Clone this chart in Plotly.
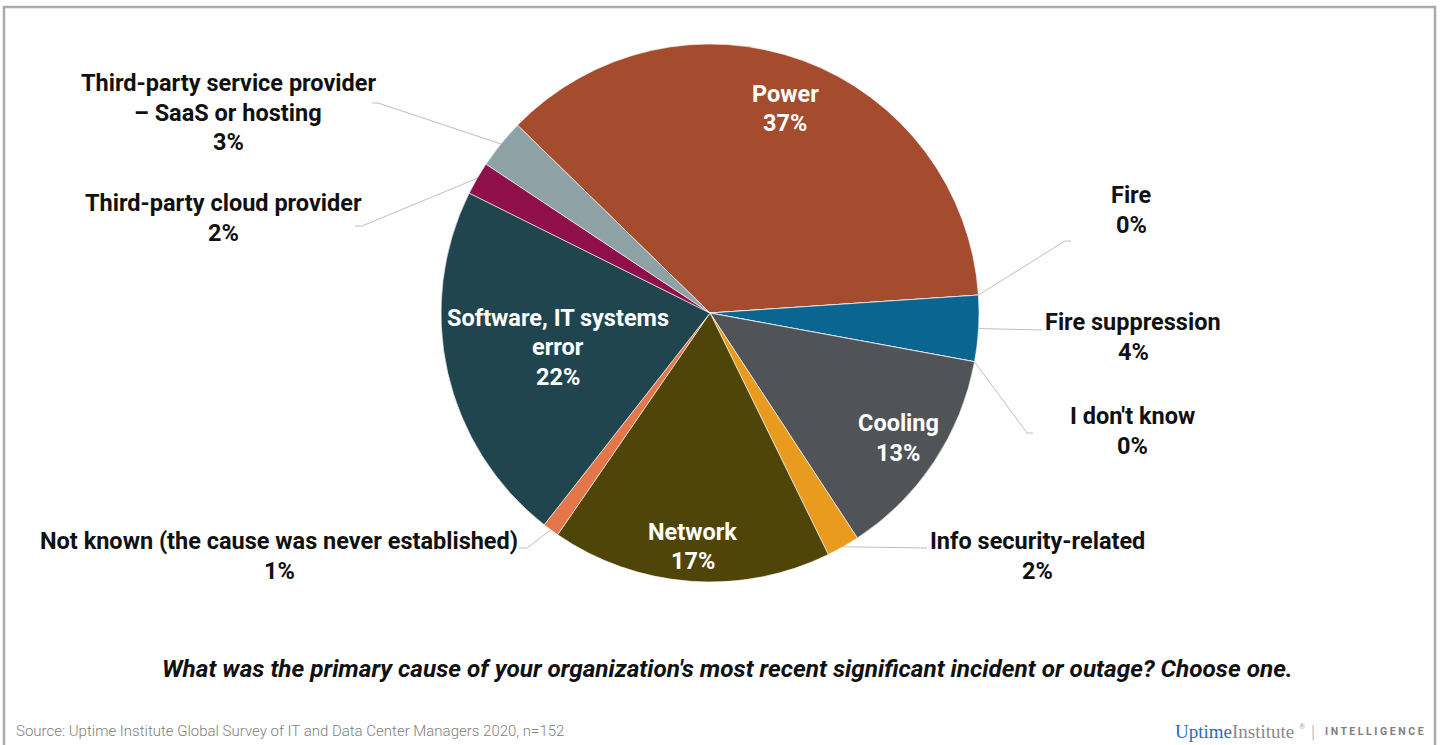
import math
import plotly.graph_objects as go

# ---------------- data ----------------
categories = [
    "Power", "Fire", "Fire suppression", "I don't know", "Cooling",
    "Info security-related", "Network", "Not known (the cause was never established)",
    "Software, IT systems error", "Third-party cloud provider",
    "Third-party service provider – SaaS or hosting",
]
values = [37, 0, 4, 0, 13, 2, 17, 1, 22, 2, 3]
pct_labels = ["37%", "0%", "4%", "0%", "13%", "2%", "17%", "1%", "22%", "2%", "3%"]
label_lines = [
    ["Power"], ["Fire"], ["Fire suppression"], ["I don't know"], ["Cooling"],
    ["Info security-related"], ["Network"], ["Not known (the cause was never established)"],
    ["Software, IT systems", "error"], ["Third-party cloud provider"],
    ["Third-party service provider", "– SaaS or hosting"],
]
colors = ["#A54B2E", "#C0392B", "#0A6591", "#888888", "#505459", "#E99B1F",
          "#4F4508", "#E5764A", "#21454F", "#8F0F4B", "#8EA1A5"]

title_text = "What was the primary cause of your organization's most recent significant incident or outage? Choose one."
source_text = "Source: Uptime Institute Global Survey of IT and Data Center Managers 2020, n=152"

# ---------------- layout constants ----------------
W, H = 1445, 745
CX, CY, R = 710, 313, 269
ROTATION = -45.7  # degrees clockwise from 12 o'clock where first slice starts
LINE_H = 29.5
FS_LABEL = 23.5

inside = {"Power": 0.81, "Cooling": 0.84, "Network": 0.87, "Software, IT systems error": 0.58}
# outside label: (text centre x, first line y, leader path points after rim point)
outside = {
    "Third-party service provider – SaaS or hosting": (228, 83, [(378, 103), (372, 103)]),
    "Third-party cloud provider": (224, 203, [(362, 226), (355, 226)]),
    "Fire": (1131, 195, [(1065, 241), (1071, 241)]),
    "Fire suppression": (1133, 322, [(1042, 330)]),
    "I don't know": (1132, 416, [(1027, 433), (1033, 433)]),
    "Info security-related": (1037, 541, [(927, 548)]),
    "Not known (the cause was never established)": (279, 541, [(527, 548), (519, 548)]),
}


def px(x):
    return x / W


def py(y):
    return 1 - y / H


fig = go.Figure()
fig.add_trace(go.Pie(
    labels=categories, values=values, sort=False, direction="clockwise",
    rotation=ROTATION, marker=dict(colors=colors, line=dict(color="white", width=0.6)),
    textinfo="none", hoverinfo="label+percent", showlegend=False,
    domain=dict(x=[px(CX - R), px(CX + R)], y=[py(CY + R), py(CY - R)]),
))

annotations = []
shapes = []
total = sum(values)
cum = 0.0
for i, cat in enumerate(categories):
    a0 = ROTATION + cum / total * 360
    cum += values[i]
    a1 = ROTATION + cum / total * 360
    mid = math.radians((a0 + a1) / 2)
    lines = label_lines[i] + [pct_labels[i]]
    if cat in inside:
        f = inside[cat]
        lx = CX + f * R * math.sin(mid)
        ly = CY - f * R * math.cos(mid)
        y0 = ly - (len(lines) - 1) * LINE_H / 2
        color = "white"
    else:
        lx, y0, path = outside[cat]
        color = "#111111"
        rx = CX + R * math.sin(mid)
        ry = CY - R * math.cos(mid)
        pts = [(rx, ry)] + path
        d = "M {} {}".format(px(pts[0][0]), py(pts[0][1]))
        for (x, y) in pts[1:]:
            d += " L {} {}".format(px(x), py(y))
        shapes.append(dict(type="path", path=d, xref="paper", yref="paper",
                           line=dict(color="#BFBFBF", width=1)))
    for k, t in enumerate(lines):
        annotations.append(dict(
            x=px(lx), y=py(y0 + k * LINE_H), xref="paper", yref="paper",
            text=t, showarrow=False, xanchor="center", yanchor="middle",
            font=dict(family="Roboto", size=FS_LABEL, color=color, weight="bold"),
        ))

# title / source / logo
annotations.append(dict(x=px(728), y=py(668), xref="paper", yref="paper", text=title_text,
                        showarrow=False, xanchor="center", yanchor="middle",
                        font=dict(family="Roboto", size=24.3, color="#111111", weight="bold", style="italic")))
annotations.append(dict(x=px(14), y=py(731), xref="paper", yref="paper", text=source_text,
                        showarrow=False, xanchor="left", yanchor="middle",
                        font=dict(family="Roboto", size=15, color="#808080", weight=300)))
annotations.append(dict(x=px(1296), y=py(731), xref="paper", yref="paper",
                        text="<span style='color:#2B6CB8'>Uptime</span>Institute",
                        showarrow=False, xanchor="right", yanchor="middle",
                        font=dict(family="Liberation Serif", size=19, color="#8A8A8A")))
annotations.append(dict(x=px(1297), y=py(726), xref="paper", yref="paper",
                        text="®", showarrow=False, xanchor="left", yanchor="middle",
                        font=dict(family="Liberation Serif", size=8, color="#8A8A8A")))
annotations.append(dict(x=px(1313), y=py(731), xref="paper", yref="paper",
                        text="|", showarrow=False, xanchor="center", yanchor="middle",
                        font=dict(family="Roboto", size=18, color="#B0B0B0", weight=300)))
annotations.append(dict(x=px(1426), y=py(731), xref="paper", yref="paper",
                        text="I N T E L L I G E N C E", showarrow=False, xanchor="right", yanchor="middle",
                        font=dict(family="Roboto", size=10.5, color="#7F7F7F", weight="bold")))

# outer frame
shapes.append(dict(type="rect", xref="paper", yref="paper", x0=px(4), x1=px(1435), y0=py(770), y1=py(7),
                   line=dict(color="#ABABAB", width=2.5), fillcolor="rgba(0,0,0,0)"))

fig.update_layout(
    width=W, height=H, margin=dict(l=0, r=0, t=0, b=0),
    paper_bgcolor="white", plot_bgcolor="white",
    annotations=annotations, shapes=shapes,
)
fig.write_html("out.html", config={"displayModeBar": False},
               post_script="document.body.style.margin='0px';document.body.style.overflow='hidden';")
